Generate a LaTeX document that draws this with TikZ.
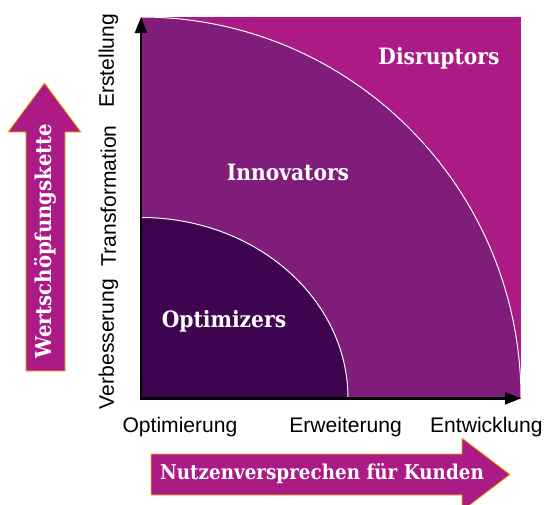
\documentclass[tikz,border=0pt]{standalone}
\usepackage{fontspec}
\setmainfont{Liberation Sans}
\newfontfamily\slabfont[FakeStretch=0.9]{DejaVu Serif}
\usetikzlibrary{arrows.meta}
\definecolor{disrupt}{HTML}{AB1A85}
\definecolor{innov}{HTML}{801C7A}
\definecolor{optim}{HTML}{3E0450}
\definecolor{rim}{HTML}{F5B800}

\begin{document}
\begin{tikzpicture}[
  axislabel/.style={font=\fontsize{15}{17}\selectfont},
  zonelabel/.style={text=white,font=\slabfont\bfseries\fontsize{16}{18}\selectfont},
  arrowlabel/.style={text=white,font=\slabfont\bfseries\fontsize{14.5}{17}\selectfont},
  bigarrow/.style={fill=disrupt,draw=rim,line width=.6pt,line join=miter},
  border/.style={white,line width=.7pt}]
\useasboundingbox (0,0) rectangle (13.675,12.6);
\coordinate (origin) at (3.525,2.64);
\coordinate (ytop) at (3.525,12.175);
\coordinate (xend) at (13.025,2.64);
\coordinate (ymid) at (3.525,7.1625);
\path[fill=disrupt] (origin) rectangle (13.025,12.175);
\path[fill=innov] (origin) -- (ytop) arc[start angle=90,end angle=0,x radius=9.5,y radius=9.535] -- cycle;
\draw[border] (ytop) arc[start angle=90,end angle=0,x radius=9.5,y radius=9.535];
\path[fill=optim] (origin) -- (ymid) arc[start angle=90,end angle=0,x radius=5.175,y radius=4.5225] -- cycle;
\draw[border] (ymid) arc[start angle=90,end angle=0,x radius=5.175,y radius=4.5225];
\draw[line width=1.6pt,line join=miter,{Triangle[length=.4cm,width=.3cm]}-{Triangle[length=.4cm,width=.3cm]}] (ytop) -- (origin) -- (xend);
\node[zonelabel] (disruptors) at (10.975,11.15) {Disruptors};
\node[zonelabel] (innovators) at (7.2,8.3) {Innovators};
\node[zonelabel] (optimizers) at (5.6,4.575) {Optimizers};
\node[axislabel,anchor=base] (optimierung) at (4.5,1.78) {Optimierung};
\node[axislabel,anchor=base] (erweiterung) at (8.64,1.78) {Erweiterung};
\node[axislabel,anchor=base] (entwicklung) at (12.16,1.78) {Entwicklung};
\node[axislabel,rotate=90] (erstellung) at (2.71,11.075) {Erstellung};
\node[axislabel,rotate=90] (transformation) at (2.71,7.7) {Transformation};
\node[axislabel,rotate=90] (verbesserung) at (2.71,4.0) {Verbesserung};
\path[bigarrow] (.65,3.325) -- (.65,9.3) -- (.2,9.3) -- (1.1125,10.525) -- (2.025,9.3) -- (1.625,9.3) -- (1.625,3.325) -- cycle;
\node[arrowlabel,font=\slabfont\bfseries\fontsize{15.5}{17}\selectfont,rotate=90] (kette) at (1.125,6.575) {Wertschöpfungskette};
\path[bigarrow] (3.775,1.25) -- (11.55,1.25) -- (11.55,1.65) -- (12.75,.7375) -- (11.55,-.175) -- (11.55,.225) -- (3.775,.225) -- cycle;
\node[arrowlabel] (kunden) at (8.05,.75) {Nutzenversprechen für Kunden};
\end{tikzpicture}
\end{document}
